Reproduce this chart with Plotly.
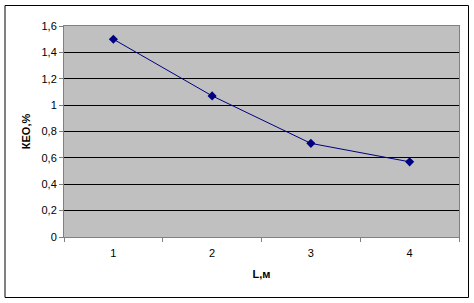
import plotly.graph_objects as go

# Data
L_values = [1, 2, 3, 4]
keo_values = [1.5, 1.07, 0.71, 0.57]
y_tickvals = [0, 0.2, 0.4, 0.6, 0.8, 1.0, 1.2, 1.4, 1.6]
y_ticktext = ["0", "0,2", "0,4", "0,6", "0,8", "1", "1,2", "1,4", "1,6"]
x_ticktext = ["1", "2", "3", "4"]

W, H = 474, 303
ml, mr, mt, mb = 64, 15, 26, 66
pw, ph = W - ml - mr, H - mt - mb

fig = go.Figure()
fig.add_trace(go.Scatter(
    x=L_values, y=keo_values, mode="lines+markers",
    line=dict(color="#000080", width=1),
    marker=dict(symbol="diamond", size=7, color="#000080"),
    showlegend=False,
))

font = dict(family="Liberation Sans, Arial, sans-serif", size=11, color="black")

fig.update_layout(
    width=W, height=H,
    margin=dict(l=ml, r=mr, t=mt, b=mb),
    paper_bgcolor="white",
    plot_bgcolor="#C0C0C0",
    font=font,
    xaxis=dict(
        range=[0.5, 4.5], tickmode="array", tickvals=L_values, ticktext=x_ticktext,
        ticks="", showgrid=False, zeroline=False,
        showline=True, linecolor="#808080", linewidth=1, mirror=True,
        minor=dict(tickmode="array", tickvals=[0.5, 1.5, 2.5, 3.5, 4.5],
                   ticks="outside", ticklen=4, tickcolor="#808080", showgrid=False),
        title=dict(text="<b>L,м</b>", standoff=12, font=font),
        ticklabelstandoff=6,
    ),
    yaxis=dict(
        range=[0, 1.6], tickmode="array", tickvals=y_tickvals, ticktext=y_ticktext,
        ticks="outside", ticklen=4, tickcolor="#808080",
        showgrid=True, gridcolor="black", gridwidth=1, zeroline=False,
        showline=True, linecolor="#808080", linewidth=1, mirror=True,
        title=dict(text="<b>КЕО,%</b>", standoff=8, font=font),
    ),
)

# outer chart border
fig.add_shape(
    type="rect", xref="paper", yref="paper",
    x0=(5 - ml) / pw, x1=(468.5 - ml) / pw,
    y0=(mt + ph - 297.5) / ph, y1=(mt + ph - 5.5) / ph,
    line=dict(color="black", width=1), fillcolor="rgba(0,0,0,0)", layer="below",
)

fig.write_html("out.html")
